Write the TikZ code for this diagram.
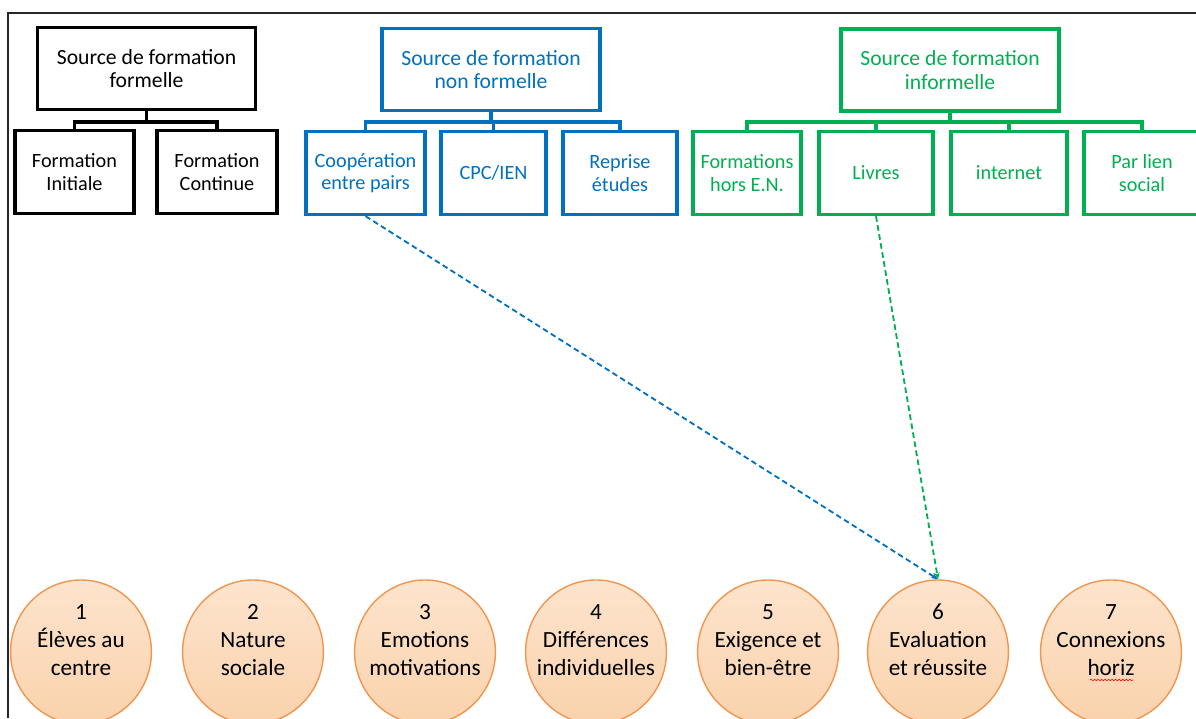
\documentclass[tikz,border=0pt]{standalone}
\usepackage{fontspec}
\setmainfont{Carlito}
\usetikzlibrary{arrows.meta,shapes.geometric,decorations.pathmorphing}
\definecolor{mblue}{RGB}{0,112,192}
\definecolor{mgreen}{RGB}{0,176,80}
\definecolor{orfill}{RGB}{250,210,172}
\definecolor{ortop}{RGB}{253,228,205}
\definecolor{orline}{RGB}{240,150,80}
\tikzset{
  hdr/.style={draw, line width=2.2pt, align=center, inner sep=2pt,
    font=\fontsize{15.4}{16.5}\selectfont, minimum width=5.45cm, minimum height=2.05cm},
  kid/.style={draw, line width=2.2pt, align=center, inner sep=1pt,
    font=\fontsize{14.4}{15.8}\selectfont, minimum height=2.08cm},
  busline/.style={line width=2.3pt},
  circ/.style={ellipse, draw=orline, line width=1pt, top color=ortop, bottom color=orfill,
    minimum width=3.52cm, minimum height=3.6cm, inner sep=0pt},
  ctext/.style={align=center, font=\fontsize{16.5}{20}\selectfont},
  link/.style={dash pattern=on 4pt off 2.5pt, line width=1.3pt, -{Stealth[length=5pt,width=4pt]}}
}
\begin{document}
\begin{tikzpicture}[x=0.025cm,y=-0.025cm]
\useasboundingbox (0,0) rectangle (1196,718);
\coordinate (bus) at (0,122);
% frame
\coordinate (fa) at (8,718);
\coordinate (fb) at (8,13);
\coordinate (fc2) at (1196,13);
\draw[line width=1.4pt, black!85] (fa) -- (fb) -- (fc2);
% black group
\node[hdr] (fsrc) at (146.5,68.5) {Source de formation\\formelle};
\node[kid, minimum width=2.975cm] (fi) at (74.5,172) {Formation\\Initiale};
\node[kid, minimum width=3cm] (fco) at (217,172) {Formation\\Continue};
\draw[busline] (fsrc.south) -- (fsrc.south|-bus);
\draw[busline] (fi.north) |- (fco.north|-bus) -- (fco.north);
% blue group
\begin{scope}[mblue]
\node[hdr, text=mblue] (nsrc) at (491,69.5) {Source de formation\\non formelle};
\node[kid, text=mblue, minimum width=2.975cm] (coop) at (365.5,173) {Coopération\\entre pairs};
\node[kid, text=mblue, minimum width=2.625cm] (cpc) at (493.5,173) {CPC/IEN};
\node[kid, text=mblue, minimum width=2.85cm] (rep) at (620,173) {Reprise\\études};
\draw[busline] (nsrc.south) -- (nsrc.south|-bus);
\draw[busline] (coop.north) |- (rep.north|-bus) -- (rep.north);
\draw[busline] (cpc.north) -- (cpc.north|-bus);
\end{scope}
% green group
\begin{scope}[mgreen]
\node[hdr, text=mgreen] (isrc) at (950,70) {Source de formation\\informelle};
\node[kid, text=mgreen, minimum width=2.7cm] (fhen) at (747,173) {Formations\\hors E.N.};
\node[kid, text=mgreen, minimum width=2.85cm] (liv) at (876,173) {Livres};
\node[kid, text=mgreen, minimum width=2.9cm] (int) at (1009,173) {internet};
\node[kid, text=mgreen, minimum width=2.9cm] (pls) at (1142,173) {Par lien\\social};
\draw[busline] (isrc.south) -- (isrc.south|-bus);
\draw[busline] (fhen.north) |- (pls.north|-bus) -- (pls.north);
\draw[busline] (liv.north) -- (liv.north|-bus);
\draw[busline] (int.north) -- (int.north|-bus);
\end{scope}
% circles
\foreach \n/\x/\t in {1/81/{1\\Élèves au\\centre}, 2/253/{2\\Nature\\sociale},
  3/425/{3\\Emotions\\motivations}, 4/596/{4\\Différences\\individuelles},
  5/768/{5\\Exigence et\\bien-être}, 6/938/{6\\Evaluation\\et réussite},
  7/1111/{7\\Connexions\\horiz}}{
  \node[circ] (c\n) at (\x,652) {};
  \node[ctext] (t\n) at (\x,640) {\t};
}
% spell-check underline under "horiz"
\coordinate (w1) at (1090,680);
\coordinate (w2) at (1133,680);
\draw[red, line width=0.4pt, decorate, decoration={snake, amplitude=0.6pt, segment length=2.5pt}] (w1) -- (w2);
% dashed links
\draw[link, mblue] (coop.south) -- (c6.north);
\draw[link, mgreen] (liv.south) -- (c6.north);
\end{tikzpicture}
\end{document}
